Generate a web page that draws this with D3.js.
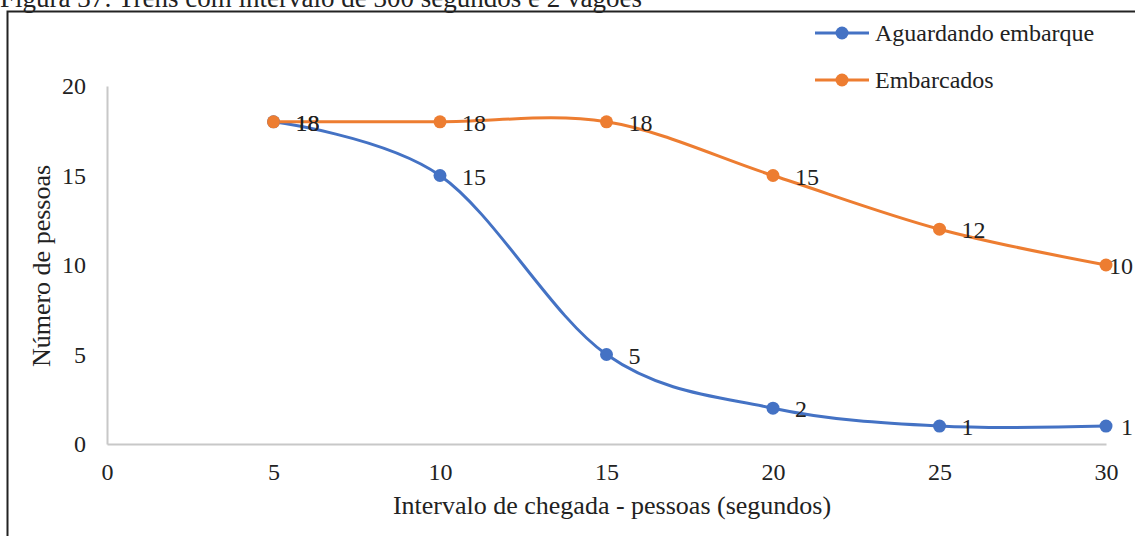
<!DOCTYPE html>
<html><head><meta charset="utf-8">
<script src="https://cdn.jsdelivr.net/npm/d3@7"></script>
<style>body{margin:0;background:#fff;} svg{display:block;}</style>
</head><body>
<svg id="c" width="1135" height="536"></svg>
<script>
const xValues = [5, 10, 15, 20, 25, 30];
const aguardando = [18, 15, 5, 2, 1, 1];
const embarcados = [18, 18, 18, 15, 12, 10];
const xTicks = [0, 5, 10, 15, 20, 25, 30];
const yTicks = [0, 5, 10, 15, 20];
const seriesNames = ["Aguardando embarque", "Embarcados"];
const colors = ["#4472C4", "#ED7D31"];

const svg = d3.select("#c");
const font = "'Liberation Serif', 'Times New Roman', serif";

svg.append("text").attr("x", 0).attr("y", 7).attr("font-family", font).attr("font-size", 27)
  .attr("fill", "#222").text("Figura 37: Trens com intervalo de 300 segundos e 2 vagões");
svg.append("rect").attr("x", 7.5).attr("y", 11.5).attr("width", 1140).attr("height", 540)
  .attr("fill", "none").attr("stroke", "#222").attr("stroke-width", 2);

const x = d3.scaleLinear().domain([0, 30]).range([107, 1106]);
const y = d3.scaleLinear().domain([0, 20]).range([444, 86]);

const xAxis = svg.append("g").attr("transform", "translate(0,444)")
  .call(d3.axisBottom(x).tickValues(xTicks).tickSize(0).tickPadding(19));
const yAxis = svg.append("g").attr("transform", "translate(107,0)")
  .call(d3.axisLeft(y).tickValues(yTicks).tickSize(0).tickPadding(21));
[xAxis, yAxis].forEach(a => {
  a.select(".domain").attr("stroke", "#c8c8c8").attr("stroke-width", 2);
  a.selectAll("text").attr("font-family", font).attr("font-size", 24).attr("fill", "#222");
});

svg.append("text").attr("x", 612).attr("y", 514).attr("text-anchor", "middle")
  .attr("font-family", font).attr("font-size", 26).attr("fill", "#222")
  .text("Intervalo de chegada - pessoas (segundos)");
svg.append("text").attr("transform", "translate(50,266) rotate(-90)").attr("text-anchor", "middle")
  .attr("font-family", font).attr("font-size", 26).attr("fill", "#222").text("Número de pessoas");

const line = d3.line().x(d => x(d[0])).y(d => y(d[1])).curve(d3.curveCatmullRom.alpha(0));
const data = [aguardando, embarcados];
data.forEach((vals, i) => {
  const pts = xValues.map((xv, j) => [xv, vals[j]]);
  svg.append("path").datum(pts).attr("d", line).attr("fill", "none")
    .attr("stroke", colors[i]).attr("stroke-width", 3);
});
data.forEach((vals, i) => {
  const pts = xValues.map((xv, j) => [xv, vals[j]]);
  svg.selectAll(null).data(pts).enter().append("circle")
    .attr("cx", d => x(d[0])).attr("cy", d => y(d[1])).attr("r", 6.5).attr("fill", colors[i]);
  svg.selectAll(null).data(pts).enter().append("text")
    .attr("y", d => y(d[1]) + 9)
    .attr("font-family", font).attr("font-size", 24).attr("fill", "#222").text(d => d[1])
    .attr("x", function(d) {
      const w = this.getComputedTextLength();
      return Math.min(x(d[0]) + 22, 1133 - w);
    });
});

seriesNames.forEach((name, i) => {
  const ly = 33 + i * 47;
  svg.append("line").attr("x1", 815).attr("x2", 869).attr("y1", ly).attr("y2", ly)
    .attr("stroke", colors[i]).attr("stroke-width", 3);
  svg.append("circle").attr("cx", 842).attr("cy", ly).attr("r", 6.5).attr("fill", colors[i]);
  svg.append("text").attr("x", 875).attr("y", ly + 8).attr("font-family", font)
    .attr("font-size", 24).attr("fill", "#222").text(name);
});
</script>
</body></html>
